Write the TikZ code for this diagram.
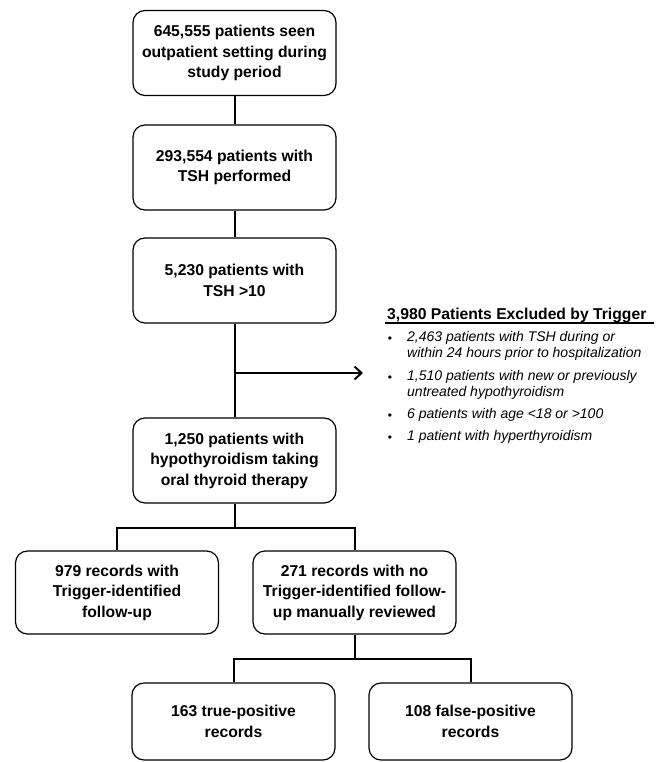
\documentclass[tikz,border=0pt]{standalone}
\usepackage{fontspec}
\setmainfont{Liberation Sans}
\usetikzlibrary{arrows.meta}
\newcommand\boxfont{\fontsize{15.7}{20.5}\selectfont\bfseries}
\newcommand\notefont{\fontsize{14}{16}\selectfont\itshape}
\tikzset{
  box/.style={draw, line width=1.2pt, rounded corners=12pt, minimum width=203pt,
    minimum height=85pt, align=center, font=\boxfont, inner sep=2pt},
  link/.style={line width=2pt},
  note/.style={anchor=north west, align=left, inner sep=0pt, font=\notefont},
}
\begin{document}
\begin{tikzpicture}[x=1pt,y=-1pt,>={Straight Barb[length=7pt,width=13pt]}]
    \useasboundingbox (0,0) rectangle (669,762);
    % main column
    \node[box] (b1) at (234.5,53) {645,555 patients seen\\outpatient setting during\\study period};
    \node[box] (b2) at (234.5,167.5) {293,554 patients with\\TSH performed};
    \node[box] (b3) at (234.5,280.5) {5,230 patients with\\TSH >10};
    \node[box] (b4) at (234.5,460.5) {1,250 patients with\\hypothyroidism taking\\oral thyroid therapy};
    \node[box,minimum height=83pt] (b5) at (117,592.5) {979 records with\\Trigger-identified\\follow-up};
    \node[box,minimum height=83pt] (b6) at (354.5,592.5) {271 records with no\\Trigger-identified follow-\\up manually reviewed};
    \node[box,minimum height=77pt] (b7) at (233.5,721.5) {163 true-positive\\records};
    \node[box,minimum height=77pt] (b8) at (470.5,721.5) {108 false-positive\\records};
    \draw[link] (b1) -- (b2);
    \draw[link] (b2) -- (b3);
    \draw[link] (b3) -- (b4);
    % exclusions
    \coordinate (split) at (b3.south |- 0,373);
    \coordinate (tip) at (363,373);
    \draw[link,->] (split) -- (tip);
    \node[anchor=base west,inner sep=0pt,font=\boxfont] (excl) at (387,319) {3,980 Patients Excluded by Trigger};
    \draw[line width=1.4pt] ([shift={(-2,4)}]excl.base west) -- ([shift={(7,4)}]excl.base east);
    \foreach \i/\y/\t in {1/331.5/{2,463 patients with TSH during or\\within 24 hours prior to hospitalization},
                          2/370.5/{1,510 patients with new or previously\\untreated hypothyroidism},
                          3/408.5/{6 patients with age <18 or >100},
                          4/430.5/{1 patient with hyperthyroidism}}{
       \node[note] (item\i) at (407,\y) {\t};
       \node[anchor=base,inner sep=0pt,font=\fontsize{12}{14}\selectfont] (dot\i) at (390,\y+10.5) {•};
    }
    % splits
    \draw[link] (b4.south) -- ++(0,24) coordinate (j1);
    \draw[link] (j1) -| (b5.north);
    \draw[link] (j1) -| (b6.north);
    \draw[link] (b6.south) -- ++(0,24) coordinate (j2);
    \draw[link] (j2) -| (b7.north);
    \draw[link] (j2) -| (b8.north);
\end{tikzpicture}
\end{document}
